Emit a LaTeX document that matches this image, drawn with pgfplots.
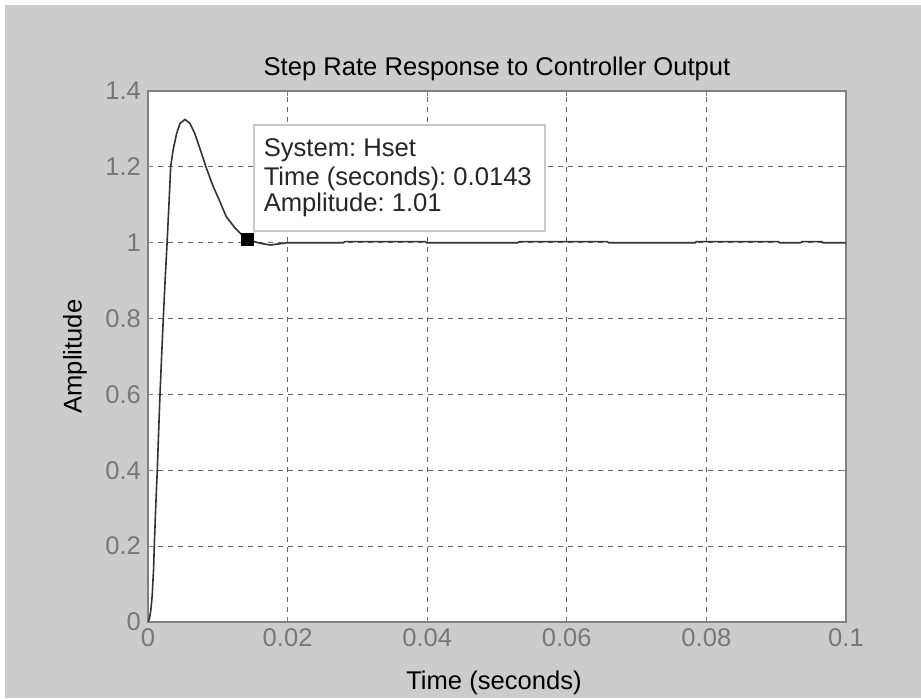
\documentclass[border=0pt]{standalone}
\usepackage{fontspec}
\setmainfont{Liberation Sans}
\usepackage{pgfplots}
\pgfplotsset{compat=1.18}
\definecolor{figBg}{HTML}{CCCCCC}
\definecolor{tickGray}{HTML}{777777}
\definecolor{boxGray}{HTML}{808080}
\frenchspacing
\begin{document}
\begin{tikzpicture}[font=\fontsize{12.8}{15}\selectfont]
% figure window background (1 px = 0.5 pt, axis box corner at origin)
\fill[white] (-74pt,-38pt) rectangle (386.5pt,311pt);
\fill[figBg] (-71.5pt,-38pt) rectangle (386.5pt,308.5pt);
\begin{axis}[
  at={(0,0)}, anchor=south west,
  scale only axis, width=349pt, height=265.5pt,
  xmin=0, xmax=0.1, ymin=0, ymax=1.4,
  xtick={0,0.02,0.04,0.06,0.08,0.1},
  ytick={0,0.2,0.4,0.6,0.8,1,1.2,1.4},
  scaled ticks=false,
  /pgf/number format/fixed,
  /pgf/number format/assume math mode=true,
  tick label style={font=\fontsize{12.8}{15}\selectfont, text=tickGray},
  axis background/.style={fill=white},
  axis line style={boxGray, line width=0.75pt},
  tick style={boxGray, line width=0.5pt},
  tick align=inside, major tick length=2.5pt,
  grid=major,
  grid style={black!60, line width=0.5pt, dash pattern=on 2.5pt off 2.5pt},
]
\addplot[black!80, line width=0.8pt, mark=none] coordinates {
  (0,0) (0.0002,0.008) (0.0004,0.03) (0.0006,0.07) (0.0008,0.14)
  (0.0009,0.2) (0.0011,0.3) (0.00133,0.4) (0.00152,0.5) (0.00172,0.6)
  (0.00195,0.7) (0.00219,0.8) (0.00245,0.9) (0.00268,0.98) (0.0030,1.1)
  (0.00325,1.2) (0.0036,1.245) (0.0041,1.288) (0.0046,1.315) (0.0053,1.325)
  (0.0060,1.315) (0.0067,1.288) (0.0075,1.245) (0.0083,1.2) (0.0093,1.15)
  (0.0102,1.113) (0.0112,1.069) (0.0125,1.038) (0.0135,1.02) (0.0143,1.01)
  (0.0152,1.003) (0.0162,0.998) (0.0175,0.994) (0.0188,0.997) (0.0200,1.0)
  (0.0280,1.0) (0.0282,1.003) (0.0397,1.003) (0.0399,1.0) (0.0530,1.0)
  (0.0532,1.003) (0.0658,1.003) (0.0660,1.0) (0.0784,1.0) (0.0786,1.003)
  (0.0903,1.003) (0.0905,1.0) (0.0935,1.0) (0.0937,1.003) (0.0965,1.003)
  (0.0967,1.0) (0.1,1.0)
};
\addplot[only marks, mark=square*, mark size=3pt, black] coordinates {(0.0143,1.01)};
\end{axis}
\node[anchor=base] at (174.5pt,273pt) {Step Rate Response to Controller Output};
\node[anchor=base] at (173pt,-33.5pt) {Time (seconds)};
\node[rotate=90] at (-36.5pt,132.75pt) {Amplitude};
% data tip
\draw[black!22, fill=white, line width=0.6pt] (53pt,195.5pt) rectangle (198.5pt,248.5pt);
\node[anchor=base west, text=black!85, inner sep=0pt] at (57.7pt,232.65pt) {System: Hset};
\node[anchor=base west, text=black!85, inner sep=0pt] at (57.7pt,218.5pt) {Time (seconds): 0.0143};
\node[anchor=base west, text=black!85, inner sep=0pt] at (57.7pt,205.15pt) {Amplitude: 1.01};
\pgfresetboundingbox
\path[use as bounding box] (-74pt,-38pt) rectangle (386.5pt,311pt);
\end{tikzpicture}
\end{document}
